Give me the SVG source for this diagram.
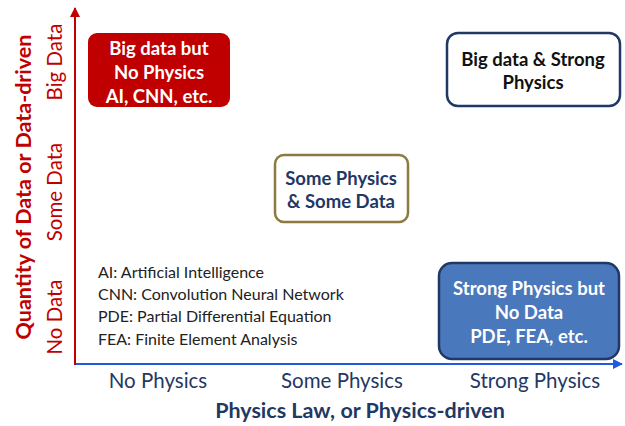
<svg xmlns="http://www.w3.org/2000/svg" width="625" height="426" viewBox="0 0 625 426">
<style>
text{font-family:Lato,"Liberation Sans",sans-serif}
.bt{font-weight:bold;font-size:18.5px;text-anchor:middle}
.ax{font-size:20.5px;text-anchor:middle}
.ti{font-size:21.5px;font-weight:bold;text-anchor:middle}
.lg{font-size:16px;fill:#222}
</style>
<defs>
<marker id="ar" markerWidth="10" markerHeight="10" refX="9" refY="5" orient="auto" markerUnits="userSpaceOnUse"><path d="M0,0 L10,5 L0,10 z" fill="#C00000"/></marker>
<marker id="ab" markerWidth="10" markerHeight="10" refX="9" refY="5" orient="auto" markerUnits="userSpaceOnUse"><path d="M0,0 L10,5 L0,10 z" fill="#1F5BE0"/></marker>
</defs>
<rect width="625" height="426" fill="#fff"/>
<g id="connectors">
<line x1="75" y1="364" x2="622" y2="364" stroke="#1F5BE0" stroke-width="2" marker-end="url(#ab)"/>
<line x1="75" y1="365" x2="75" y2="8" stroke="#C00000" stroke-width="2" marker-end="url(#ar)"/>
</g>
<g id="yaxis-labels" fill="#C00000">
<text class="ax" transform="translate(62,62) rotate(-90)">Big Data</text>
<text class="ax" transform="translate(62,192) rotate(-90)">Some Data</text>
<text class="ax" transform="translate(62,317) rotate(-90)">No Data</text>
<text class="ti" transform="translate(31,187) rotate(-90)">Quantity of Data or Data-driven</text>
</g>
<g id="xaxis-labels" fill="#1F3864">
<text class="ax" x="158" y="388">No Physics</text>
<text class="ax" x="342" y="388">Some Physics</text>
<text class="ax" x="535" y="388">Strong Physics</text>
<text class="ti" x="360" y="418">Physics Law, or Physics-driven</text>
</g>
<g id="node-bigdata-nophysics">
<rect x="88" y="33" width="142" height="74" rx="9" fill="#C00000"/>
<text class="bt" fill="#fff" x="159" y="55">Big data but</text>
<text class="bt" fill="#fff" x="159" y="79">No Physics</text>
<text class="bt" fill="#fff" x="159" y="103">AI, CNN, etc.</text>
</g>
<g id="node-bigdata-strongphysics">
<rect x="447" y="33" width="173" height="73" rx="11" fill="#fff" stroke="#1F3864" stroke-width="2.5"/>
<text class="bt" fill="#111" x="533" y="66">Big data &amp; Strong</text>
<text class="bt" fill="#111" x="533" y="89">Physics</text>
</g>
<g id="node-some">
<rect x="275" y="155" width="133" height="67" rx="9" fill="#fff" stroke="#8C7A40" stroke-width="2.5"/>
<text class="bt" fill="#1F3864" x="341" y="185">Some Physics</text>
<text class="bt" fill="#1F3864" x="341" y="208">&amp; Some Data</text>
</g>
<g id="node-strongphysics-nodata">
<rect x="439" y="263" width="180" height="96" rx="13" fill="#4A78BC" stroke="#1F3864" stroke-width="2.5"/>
<text class="bt" fill="#fff" x="529" y="295">Strong Physics but</text>
<text class="bt" fill="#fff" x="529" y="319">No Data</text>
<text class="bt" fill="#fff" x="529" y="343">PDE, FEA, etc.</text>
</g>
<g id="legend">
<text class="lg" x="98" y="278">AI: Artificial Intelligence</text>
<text class="lg" x="98" y="300">CNN: Convolution Neural Network</text>
<text class="lg" x="98" y="322">PDE: Partial Differential Equation</text>
<text class="lg" x="98" y="345">FEA: Finite Element Analysis</text>
</g>
</svg>
